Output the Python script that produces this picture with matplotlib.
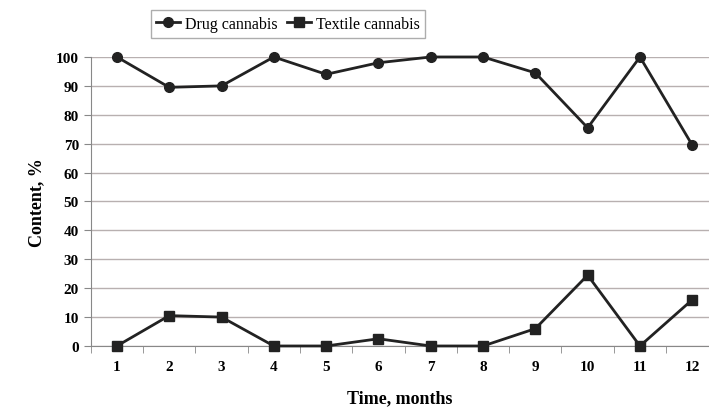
import matplotlib.pyplot as plt
from matplotlib.ticker import FixedLocator, NullFormatter

months = list(range(1, 13))
month_labels = [str(m) for m in months]
drug = [100, 89.5, 90, 100, 94, 98, 100, 100, 94.5, 75.5, 100, 69.5]
textile = [0, 10.5, 10, 0, 0, 2.5, 0, 0, 6, 24.5, 0, 16]
y_ticks = list(range(0, 101, 10))

plt.rcParams['font.family'] = ['Liberation Serif', 'DejaVu Serif']

fig = plt.figure(figsize=(7.09, 4.10), dpi=100)
ax = fig.add_axes([0.128, 0.1537, 0.872, 0.7049])

line_col = "#222222"
grid_col = "#b8b0b0"

ax.plot(months, drug, color=line_col, lw=2, marker="o", ms=7,
        label="Drug cannabis", zorder=3, clip_on=False)
ax.plot(months, textile, color=line_col, lw=2, marker="s", ms=7,
        label="Textile cannabis", zorder=3, clip_on=False)

ax.set_xlim(0.5, 12.32)
ax.set_ylim(0, 100)
ax.set_yticks(y_ticks)
ax.set_yticklabels([str(v) for v in y_ticks], fontweight="bold", fontsize=11)
ax.set_xticks(months)
ax.set_xticklabels(month_labels, fontweight="bold", fontsize=11)
ax.tick_params(axis="x", length=0, pad=10)
ax.xaxis.set_minor_locator(FixedLocator([m + 0.5 for m in range(0, 12)]))
ax.xaxis.set_minor_formatter(NullFormatter())
ax.tick_params(axis="x", which="minor", length=5, color="#888888")
ax.tick_params(axis="y", length=5, color="#888888")

ax.grid(axis="y", color=grid_col, lw=1)
ax.set_axisbelow(True)
for side in ["top", "right"]:
    ax.spines[side].set_visible(False)
ax.spines["left"].set_color("#888888")
ax.spines["bottom"].set_color("#888888")
ax.spines["bottom"].set_zorder(2)

ax.set_ylabel("Content, %", fontweight="bold", fontsize=13, labelpad=8)
ax.set_xlabel("Time, months", fontweight="bold", fontsize=13, labelpad=12)

leg = fig.legend(loc="center", bbox_to_anchor=(288 / 709, 1 - 25 / 410), ncol=2,
                 frameon=True, fancybox=False, edgecolor="#999999", fontsize=11.5,
                 handlelength=1.5, handletextpad=0.3, columnspacing=0.6,
                 borderpad=0.35)
leg.get_frame().set_linewidth(1)

fig.savefig("out.png", dpi=100)
